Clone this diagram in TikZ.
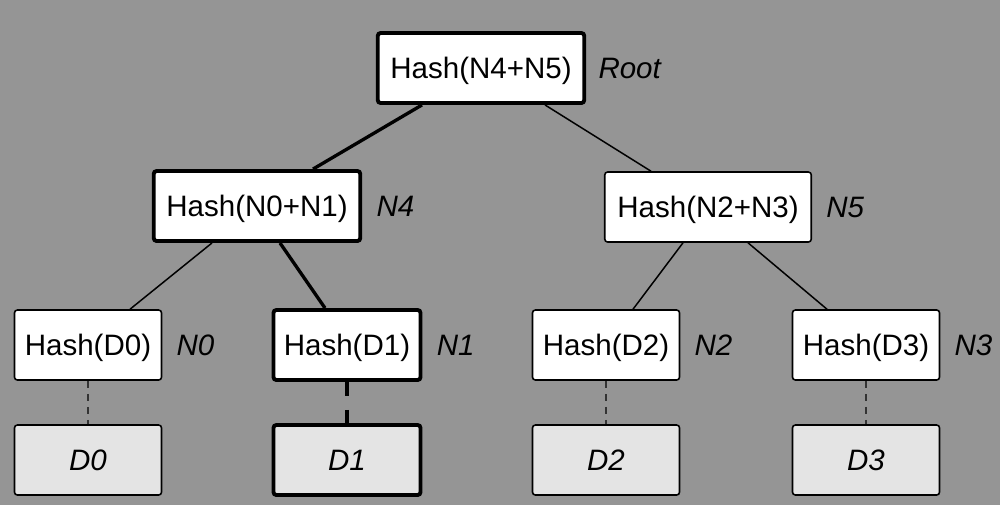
\documentclass[tikz,border=0pt]{standalone}
\usepackage{fontspec}
\setmainfont{Liberation Sans}
\usetikzlibrary{positioning}
\definecolor{bggray}{RGB}{149,149,149}
\definecolor{datagray}{RGB}{228,228,228}
\newcommand{\treefont}{\fontsize{16.8}{20}\selectfont}
\tikzset{
  hashbox/.style={draw, fill=white, rounded corners=1.6pt, line width=0.9pt,
    minimum height=1.4cm, inner sep=0pt, text depth=0pt, font=\treefont},
  wide/.style={minimum width=4.13cm},
  leaf/.style={minimum width=2.94cm},
  databox/.style={hashbox, leaf, fill=datagray, font=\treefont\itshape},
  onpath/.style={line width=2.2pt},
  tag/.style={font=\treefont\itshape, inner sep=0pt},
  link/.style={line width=0.85pt},
  prooflink/.style={line width=1.9pt},
  datalink/.style={line width=0.9pt, black!80, dash pattern=on 0.14cm off 0.12cm},
  prooflinkdata/.style={line width=1.9pt, dash pattern=on 0.28cm off 0.28cm}
}
\begin{document}
\begin{tikzpicture}[x=0.02cm, y=-0.02cm]
\fill[bggray] (0,0) rectangle (1000,505);
\useasboundingbox (0,0) rectangle (1000,505);

% tree of hashes
\node[hashbox, wide, onpath] (root) at (481,68) {Hash(N4+N5)};
\node[hashbox, wide, onpath] (n4) at (257,206) {Hash(N0+N1)};
\node[hashbox, wide] (n5) at (708,207) {Hash(N2+N3)};
\node[hashbox, leaf] (n0) at (88,345) {Hash(D0)};
\node[hashbox, leaf, onpath] (n1) at (347,345) {Hash(D1)};
\node[hashbox, leaf] (n2) at (606,345) {Hash(D2)};
\node[hashbox, leaf] (n3) at (866,345) {Hash(D3)};

% data blocks
\node[databox] (d0) at (88,460) {D0};
\node[databox, onpath] (d1) at (347,460) {D1};
\node[databox] (d2) at (606,460) {D2};
\node[databox] (d3) at (866,460) {D3};

% names
\node[tag, right=0.24cm of root] (roottag) {Root};
\node[tag, right=0.28cm of n4] (n4tag) {N4};
\node[tag, right=0.28cm of n5] (n5tag) {N5};
\node[tag, right=0.28cm of n0] (n0tag) {N0};
\node[tag, right=0.28cm of n1] (n1tag) {N1};
\node[tag, right=0.28cm of n2] (n2tag) {N2};
\node[tag, right=0.28cm of n3] (n3tag) {N3};

\draw[prooflink] ([xshift=-1.18cm]root.south) -- ([xshift=1.12cm]n4.north);
\draw[link] ([xshift=1.28cm]root.south) -- ([xshift=-1.14cm]n5.north);
\draw[link] ([xshift=-0.9cm]n4.south) -- ([xshift=0.84cm]n0.north);
\draw[prooflink] ([xshift=0.46cm]n4.south) -- ([xshift=-0.44cm]n1.north);
\draw[link] ([xshift=-0.5cm]n5.south) -- ([xshift=0.54cm]n2.north);
\draw[link] ([xshift=0.8cm]n5.south) -- ([xshift=-0.78cm]n3.north);

\draw[datalink] (n0) -- (d0);
\draw[prooflinkdata] (n1) -- (d1);
\draw[datalink] (n2) -- (d2);
\draw[datalink] (n3) -- (d3);

\end{tikzpicture}
\end{document}
